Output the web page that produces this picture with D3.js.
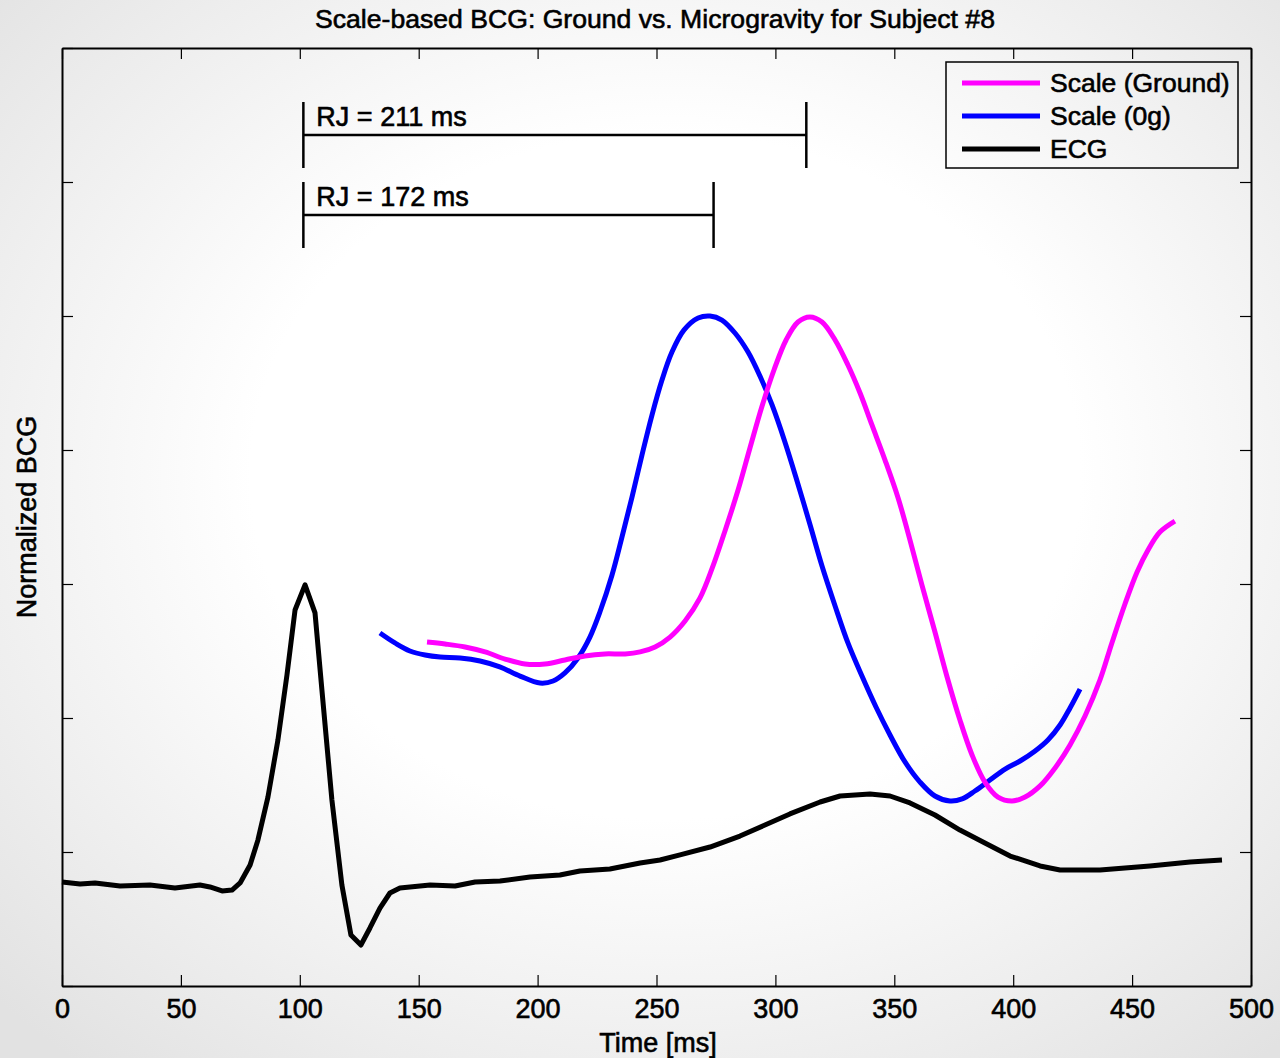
<!DOCTYPE html>
<html lang="en">
<head>
<meta charset="UTF-8">
<title>Scale-based BCG</title>
<style>
  body { margin: 0; background: #fff; }
  text { font-family: "Liberation Sans", Arial, sans-serif; fill: #000; stroke: #000; stroke-width: 0.6px; }
</style>
</head>
<body>
<div id="chart"></div>
<script src="https://d3js.org/d3.v7.min.js"></script>
<script>
// ECG trace (time in ms, normalized amplitude)
var ecgTime = [0, 7.6, 13.9, 24.4, 37, 47.5, 58, 62.2, 67.3, 71.5, 74.9, 79.1, 82.4, 86.6, 90.8, 94.6, 98, 102.2,
  106.4, 109.3, 113.5, 117.7, 121.5, 125.7, 129.5, 133.7, 137.9, 142.1, 154.8, 165.3, 173.7, 184.2, 196.8, 209.4,
  217.8, 230.4, 243.1, 251.5, 259.9, 272.5, 285.1, 295.6, 306.1, 318.8, 327.2, 339.8, 348.2, 356.6, 367.1, 377.6,
  388.1, 398.7, 411.3, 419.7, 436.5, 457.5, 474.4, 487.8];
var ecgValue = [0.776, 0.761, 0.769, 0.746, 0.754, 0.731, 0.754, 0.739, 0.709, 0.716, 0.769, 0.903, 1.09, 1.41, 1.836,
  2.321, 2.806, 2.993, 2.784, 2.209, 1.388, 0.754, 0.381, 0.306, 0.433, 0.582, 0.694, 0.731, 0.754, 0.746, 0.776,
  0.784, 0.813, 0.828, 0.858, 0.873, 0.918, 0.94, 0.978, 1.037, 1.119, 1.201, 1.284, 1.373, 1.418, 1.433, 1.418,
  1.366, 1.276, 1.164, 1.067, 0.97, 0.896, 0.866, 0.866, 0.896, 0.925, 0.94];

// Scale BCG in microgravity
var zeroGTime = [133.7, 140, 146.3, 152.7, 159, 167.4, 175.8, 184.1, 192.6, 201, 206.5, 211.5, 217, 222, 226.2, 231.3,
  235.5, 239.7, 243.9, 248.1, 252.3, 256.5, 261.6, 267.5, 272.5, 277.5, 283, 288.5, 293.5, 298.6, 304, 309.1, 314.6,
  319.6, 325.1, 330.5, 336.4, 342.3, 348.2, 354.5, 360.8, 367.1, 373.4, 378.5, 383.9, 390.2, 396.6, 402.9, 409.2,
  414.6, 419.7, 423.9, 428.1];
var zeroGValue = [2.634, 2.56, 2.5, 2.47, 2.455, 2.448, 2.425, 2.381, 2.313, 2.261, 2.276, 2.336, 2.448, 2.604, 2.791,
  3.067, 3.351, 3.649, 3.963, 4.261, 4.522, 4.731, 4.896, 4.985, 5.0, 4.97, 4.873, 4.731, 4.552, 4.336, 4.06, 3.769,
  3.44, 3.134, 2.836, 2.56, 2.313, 2.082, 1.873, 1.672, 1.522, 1.418, 1.381, 1.396, 1.455, 1.537, 1.619, 1.679,
  1.754, 1.836, 1.948, 2.075, 2.216];

// Scale BCG on ground
var groundTime = [153.5, 161.1, 169.5, 177.9, 186.3, 194.7, 203.1, 211.5, 219.9, 228.3, 236.8, 243.1, 249.4, 255.7,
  262, 268.3, 273.3, 278.8, 284.3, 289.3, 294.4, 299.4, 304.5, 309.5, 314.5, 319.6, 325.1, 330.5, 335.6, 340.6,
  346.1, 351.6, 356.6, 361.6, 367.1, 372.2, 377.6, 382.7, 388.1, 393.6, 399.5, 405, 411.3, 417.6, 423.9, 430.2,
  436.5, 441.5, 447, 452.1, 456.7, 461.7, 468];
var groundValue = [2.567, 2.552, 2.53, 2.493, 2.44, 2.403, 2.403, 2.433, 2.463, 2.478, 2.478, 2.493, 2.53, 2.604,
  2.724, 2.896, 3.112, 3.396, 3.701, 4.015, 4.328, 4.597, 4.821, 4.955, 4.993, 4.955, 4.821, 4.634, 4.425, 4.187,
  3.925, 3.642, 3.328, 2.993, 2.642, 2.306, 1.985, 1.724, 1.522, 1.41, 1.381, 1.41, 1.493, 1.627, 1.799, 2.015,
  2.284, 2.56, 2.851, 3.09, 3.254, 3.388, 3.47];

var xTicks = [0, 50, 100, 150, 200, 250, 300, 350, 400, 450, 500];
var yTicks = [0, 1, 2, 3, 4, 5, 6, 7];

var seriesNames = ["Scale (Ground)", "Scale (0g)", "ECG"];
var seriesColors = ["#ff00ff", "#0000ff", "#000000"];

// R peak and J peaks, for the RJ brackets
var rPeak = 101.5;
var jPeaks = [313, 274];
var rjLabels = ["RJ = 211 ms", "RJ = 172 ms"];

var W = 1280, H = 1058;
var margin = { left: 62, right: 29, top: 48, bottom: 72 };

var svg = d3.select("#chart").append("svg")
  .attr("width", W)
  .attr("height", H);

// soft vignette background
var grad = svg.append("defs").append("radialGradient")
  .attr("id", "bg")
  .attr("cx", "52%").attr("cy", "45%").attr("r", "72%");
grad.append("stop").attr("offset", "45%").attr("stop-color", "#ffffff");
grad.append("stop").attr("offset", "100%").attr("stop-color", "#e2e2e2");
svg.append("rect").attr("width", W).attr("height", H).attr("fill", "url(#bg)");

var x = d3.scaleLinear().domain([0, 500]).range([margin.left, W - margin.right]);
var y = d3.scaleLinear().domain([0, 7]).range([H - margin.bottom, margin.top]);

// axes (box with inward ticks)
var tick = 11;
var axB = svg.append("g").attr("transform", "translate(0," + y(0) + ")")
  .call(d3.axisBottom(x).tickValues(xTicks).tickSizeInner(-tick).tickSizeOuter(0).tickPadding(13));
var axT = svg.append("g").attr("transform", "translate(0," + y(7) + ")")
  .call(d3.axisTop(x).tickValues(xTicks).tickSizeInner(-tick).tickSizeOuter(0).tickFormat(""));
var axL = svg.append("g").attr("transform", "translate(" + x(0) + ",0)")
  .call(d3.axisLeft(y).tickValues(yTicks).tickSizeInner(-tick).tickSizeOuter(0).tickFormat(""));
var axR = svg.append("g").attr("transform", "translate(" + x(500) + ",0)")
  .call(d3.axisRight(y).tickValues(yTicks).tickSizeInner(-tick).tickSizeOuter(0).tickFormat(""));

[axB, axT, axL, axR].forEach(function (a) {
  a.select(".domain").attr("stroke", "#000").attr("stroke-width", 2);
  a.selectAll(".tick line").attr("stroke", "#000").attr("stroke-width", 1.2);
});
axB.selectAll(".tick text")
  .style("font-family", "'Liberation Sans', Arial, sans-serif")
  .style("font-size", "27px")
  .attr("fill", "#000");

// titles
svg.append("text")
  .attr("x", 655).attr("y", 28)
  .attr("text-anchor", "middle")
  .style("font-size", "26.6px")
  .text("Scale-based BCG: Ground vs. Microgravity for Subject #8");

svg.append("text")
  .attr("x", 658).attr("y", 1052)
  .attr("text-anchor", "middle")
  .style("font-size", "27px")
  .text("Time [ms]");

svg.append("text")
  .attr("transform", "translate(36,517) rotate(-90)")
  .attr("text-anchor", "middle")
  .style("font-size", "27px")
  .text("Normalized BCG");

// traces: ECG as a plain polyline, BCG traces smoothed
var ecgLine = d3.line()
  .x(function (d) { return x(d[0]); })
  .y(function (d) { return y(d[1]); });
var bcgLine = d3.line()
  .curve(d3.curveCatmullRom)
  .x(function (d) { return x(d[0]); })
  .y(function (d) { return y(d[1]); });

var series = [
  d3.zip(groundTime, groundValue),
  d3.zip(zeroGTime, zeroGValue),
  d3.zip(ecgTime, ecgValue)
];

// draw ECG first, then 0g, then ground on top
[2, 1, 0].forEach(function (i) {
  svg.append("path")
    .datum(series[i])
    .attr("fill", "none")
    .attr("stroke", seriesColors[i])
    .attr("stroke-width", 5)
    .attr("stroke-linejoin", "round")
    .attr("d", i === 2 ? ecgLine : bcgLine);
});

// RJ brackets
var bracketTop = [102, 182];
var bracketH = 66;
jPeaks.forEach(function (j, i) {
  var g = svg.append("g").attr("stroke", "#000").attr("stroke-width", 2.5);
  var top = bracketTop[i];
  g.append("line").attr("x1", x(rPeak)).attr("x2", x(rPeak)).attr("y1", top).attr("y2", top + bracketH);
  g.append("line").attr("x1", x(j)).attr("x2", x(j)).attr("y1", top).attr("y2", top + bracketH);
  g.append("line").attr("x1", x(rPeak)).attr("x2", x(j)).attr("y1", top + bracketH / 2).attr("y2", top + bracketH / 2);
  svg.append("text")
    .attr("x", x(rPeak) + 13).attr("y", top + 24)
    .style("font-size", "27px")
    .text(rjLabels[i]);
});

// legend
var lg = svg.append("g").attr("transform", "translate(946,62)");
lg.append("rect")
  .attr("width", 292).attr("height", 106)
  .attr("fill", "none").attr("stroke", "#000").attr("stroke-width", 1.5);
seriesNames.forEach(function (name, i) {
  var yy = 21 + i * 33;
  lg.append("line")
    .attr("x1", 16).attr("x2", 94).attr("y1", yy).attr("y2", yy)
    .attr("stroke", seriesColors[i]).attr("stroke-width", 5);
  lg.append("text")
    .attr("x", 104).attr("y", yy + 9)
    .style("font-size", "26.5px")
    .text(name);
});
</script>
</body>
</html>
